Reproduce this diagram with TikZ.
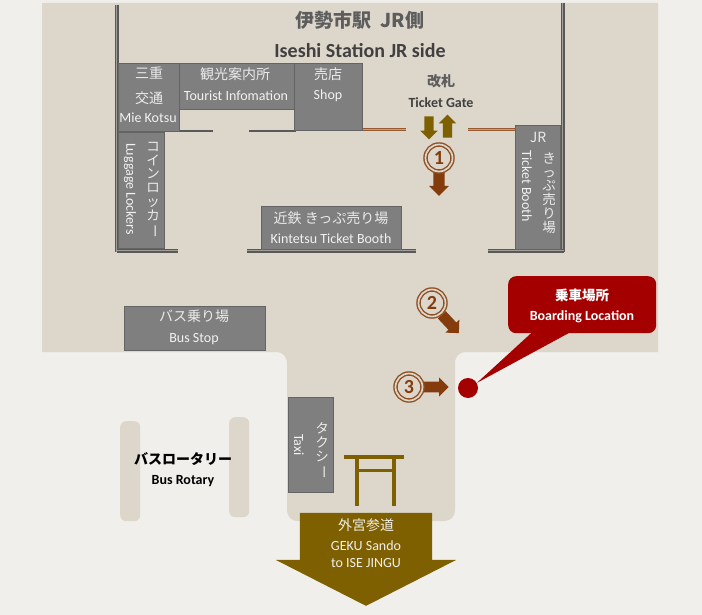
\documentclass[tikz,border=0pt]{standalone}
\usepackage{fontspec}
\setmainfont{Carlito}
\newfontfamily\cjk{Noto Sans CJK JP}
\usetikzlibrary{shapes.arrows}
\definecolor{pagebg}{HTML}{F0EFEB}
\definecolor{floorbg}{HTML}{DCD6CB}
\definecolor{boothgray}{HTML}{7F7F7F}
\definecolor{wallgray}{HTML}{595959}
\definecolor{gatebrown}{HTML}{843C0C}
\definecolor{gold}{HTML}{7F6000}
\definecolor{callred}{HTML}{A50000}
\definecolor{titlegray}{HTML}{404040}
\newcommand{\vbar}{\rotatebox[origin=c]{-90}{ー}}
\tikzset{
	booth/.style = {
		rectangle,
		draw=wallgray!70!boothgray,
		fill=boothgray,
		anchor=north west,
		inner sep=0pt
	},
	boothjp/.style = {
		text=white!92!black,
		inner sep=0pt,
		font=\cjk\fontsize{14}{14}\selectfont
	},
	boothen/.style = {
		text=white!95!black,
		inner sep=0pt,
		font=\fontsize{14}{14}\selectfont
	},
	stacked/.style = {
		boothjp,
		align=center,
		font=\cjk\fontsize{13.5}{13.8}\selectfont
	},
	titlejp/.style = {
		text=titlegray!85!white,
		inner sep=0pt,
		font=\cjk\bfseries\fontsize{#1}{#1}\selectfont
	},
	titleen/.style = {
		text=titlegray,
		inner sep=0pt,
		font=\bfseries\fontsize{#1}{#1}\selectfont
	},
	wall/.style = {
		draw=wallgray,
		line width=1.5pt,
		double=wallgray!45!floorbg,
		double distance=1pt
	},
	wall_thin/.style = {
		draw=wallgray,
		line width=1.5pt
	},
	gate_line/.style = {
		draw=gatebrown!85!white,
		line width=1pt,
		double=gatebrown!35!floorbg,
		double distance=1pt
	},
	num_ring/.style = {
		circle,
		draw=gatebrown!90!white,
		fill=floorbg,
		line width=1.4pt,
		double=floorbg,
		double distance=1.7pt,
		minimum size=27pt,
		inner sep=0pt,
		text=gatebrown,
		font=\bfseries\fontsize{20}{20}\selectfont
	},
	dir_arrow/.style = {
		single arrow,
		fill=#1,
		inner xsep=0pt,
		inner ysep=5pt,
		single arrow head extend=4pt
	},
	pill/.style = {
		rectangle,
		rounded corners=6pt,
		fill=floorbg,
		anchor=north west,
		inner sep=0pt,
		minimum width=20pt,
		minimum height=100pt
	},
}
\begin{document}
\begin{tikzpicture}[x=1pt,y=-1pt]
\useasboundingbox (0,0) rectangle (702,615);
\fill [pagebg] (0,0) rectangle (702,615);
% floor of the station and the way out
\fill [floorbg] (42,3) -- (658,3) -- (658,352) -- (467,352)
	.. controls (459,352) and (455,356) .. (455,364) -- (455,509)
	.. controls (455,517) and (451,521) .. (443,521) -- (299,521)
	.. controls (291,521) and (287,517) .. (287,509) -- (287,364)
	.. controls (287,356) and (283,352) .. (275,352) -- (42,352) -- cycle;
\node [pill] (rotary_l) at (120,421) {};
\node [pill] (rotary_r) at (229,417) {};
% walls
\draw [wall] (116.5,5) -- (116.5,252);
\draw [wall] (562.5,3) -- (562.5,252);
\draw [wall] (117,250.5) -- (178,250.5);
\draw [wall] (247,250.5) -- (416,250.5);
\draw [wall] (488,250.5) -- (564,250.5);
\draw [wall_thin] (179,131) -- (213,131);
\draw [wall_thin] (249,131) -- (296,131);
\draw [gate_line] (362,130) -- (406,130);
\draw [gate_line] (468,130) -- (515,130);
% booths
\node [booth, minimum width=61pt, minimum height=68pt] (mie) at (118,63) {};
\node [booth, minimum width=115pt, minimum height=46pt] (tourist) at (179,63) {};
\node [booth, minimum width=68pt, minimum height=67pt] (shop) at (294,63) {};
\node [booth, minimum width=46pt, minimum height=116pt] (locker) at (118,132) {};
\node [booth, minimum width=140pt, minimum height=43pt] (kintetsu) at (261,206) {};
\node [booth, minimum width=45pt, minimum height=124pt] (jr) at (515,125) {};
\node [booth, minimum width=141pt, minimum height=44pt] (busstop) at (124,306) {};
\node [booth, minimum width=45pt, minimum height=95pt] (taxi) at (288,397) {};
% booth labels
\node [boothjp] (mie_a) at (149,73) {三重};
\node [boothjp] (mie_b) at (149,98) {交通};
\node [boothen] (mie_c) at (148,118) {Mie Kotsu};
\node [boothjp] (tourist_a) at (235,74) {観光案内所};
\node [boothen] (tourist_b) at (236,96) {Tourist Infomation};
\node [boothjp] (shop_a) at (328,74) {売店};
\node [boothen] (shop_b) at (328,96) {Shop};
\node [stacked] (locker_a) at (153,190) {コ\\イ\\ン\\ロ\\ッ\\カ\\\vbar};
\node [boothen, rotate=-90] (locker_b) at (130,189) {Luggage Lockers};
\node [boothjp] (kintetsu_a) at (331,218) {近鉄 きっぷ売り場};
\node [boothen] (kintetsu_b) at (331,239) {Kintetsu Ticket Booth};
\node [boothjp] (jr_a) at (538,137) {JR};
\node [stacked] (jr_b) at (549,193) {き\\っ\\ぷ\\売\\り\\場};
\node [boothen, rotate=-90] (jr_c) at (527,186) {Ticket Booth};
\node [boothjp] (busstop_a) at (194,316) {バス乗り場};
\node [boothen] (busstop_b) at (194,339) {Bus Stop};
\node [stacked] (taxi_a) at (322,451) {タ\\ク\\シ\\\vbar};
\node [boothen, rotate=-90] (taxi_b) at (299,445) {Taxi};
% titles
\node [titlejp=19] (title_a) at (360,20) {伊勢市駅\ \ JR側};
\node [titleen=20] (title_b) at (360,51) {Iseshi Station JR side};
\node [titlejp=14] (gate_a) at (441,81) {改札};
\node [titleen=14] (gate_b) at (441,103) {Ticket Gate};
\node [inner sep=0pt, font=\cjk\bfseries\fontsize{14}{14}\selectfont] (rotary_a) at (183,459) {バスロータリー};
\node [inner sep=0pt, font=\bfseries\fontsize{14}{14}\selectfont] (rotary_b) at (183,481) {Bus Rotary};
% arrows
\node [dir_arrow=gold, rotate=-90, inner ysep=4.5pt, minimum width=16pt, minimum height=23pt] (gate_in) at (429,125.5) {};
\node [dir_arrow=gold, rotate=90, inner ysep=4.5pt, minimum width=16pt, minimum height=23pt] (gate_out) at (447.5,128.5) {};
\node [dir_arrow=gatebrown, rotate=-90, minimum width=20pt, minimum height=26pt] (go_a) at (439,180) {};
\node [dir_arrow=gatebrown, rotate=-47, minimum width=19pt, minimum height=25pt] (go_b) at (448.5,322) {};
\node [dir_arrow=gatebrown, rotate=0, minimum width=19pt, minimum height=27pt] (go_c) at (432.5,387) {};
\node [num_ring] (num_a) at (439,158) {1};
\node [num_ring] (num_b) at (432,303) {2};
\node [num_ring] (num_c) at (409,387) {3};
% torii
\fill [gold] (344,455) rectangle (404,458.5);
\fill [gold] (356,469) rectangle (394,472);
\fill [gold] (354.5,458) rectangle (358.5,506);
\fill [gold] (392,458) rectangle (396,506);
% way to the shrine
\node [single arrow, fill=gold, rotate=-90, inner xsep=0pt, inner ysep=66pt, minimum width=180pt, minimum height=93pt, single arrow head extend=24pt, single arrow tip angle=126] (geku) at (366,542.5) {};
\node [inner sep=0pt, text=floorbg!40!white, font=\cjk\fontsize{14}{14}\selectfont] (geku_a) at (366,525) {外宮参道};
\node [inner sep=0pt, text=floorbg!40!white, font=\fontsize{14}{14}\selectfont] (geku_b) at (366,546) {GEKU Sando};
\node [inner sep=0pt, text=floorbg!40!white, font=\fontsize{14}{14}\selectfont] (geku_c) at (366,563) {to ISE JINGU};
% boarding location
\node [circle, fill=callred, minimum size=20pt, inner sep=0pt] (stop) at (468,388) {};
\node [rectangle, rounded corners=8pt, fill=callred, anchor=north west, inner sep=0pt, minimum width=148pt, minimum height=57pt] (boarding) at (508,276) {};
\fill [callred] ([xshift=24pt,yshift=1pt]boarding.south west) -- ([xshift=62pt,yshift=1pt]boarding.south west) -- (stop.30) -- cycle;
\node [inner sep=0pt, text=white, font=\cjk\bfseries\fontsize{13.5}{14}\selectfont] (boarding_a) at (582,295) {乗車場所};
\node [inner sep=0pt, text=white, font=\bfseries\fontsize{14}{14}\selectfont] (boarding_b) at (582,317) {Boarding Location};
\end{tikzpicture}
\end{document}
